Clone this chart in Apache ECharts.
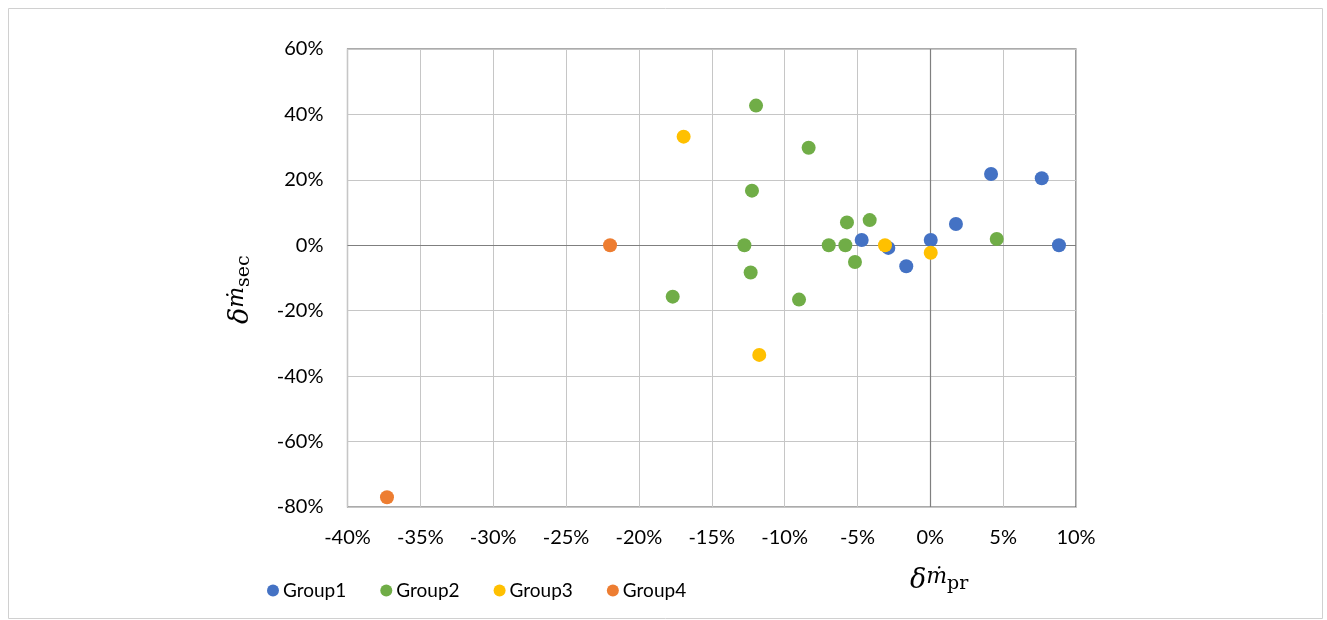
<!DOCTYPE html>
<html>
<head>
<meta charset="utf-8">
<script src="https://cdn.jsdelivr.net/npm/echarts@6/dist/echarts.min.js"></script>
<style>
  html, body { margin: 0; padding: 0; background: #fff; }
  #chart { width: 1327px; height: 620px; }
</style>
</head>
<body>
<div id="chart"></div>
<script>
// Relative deviations (%) of primary and secondary mass flow, by group
const groupNames = ['Group1', 'Group2', 'Group3', 'Group4'];
const groupColors = ['#4472C4', '#70AD47', '#FFC000', '#ED7D31'];

const group1X = [4.17, 7.65, 1.76, -4.71, -2.88, 0.03, -1.65, 8.83];
const group1Y = [21.8, 20.5, 6.5, 1.6, -0.8, 1.6, -6.4, 0.0];

const group2X = [-11.96, -8.35, -12.24, -5.72, -4.16, -12.76, -6.97, -5.83, -5.17, -12.33, -17.68, -9.01, 4.56];
const group2Y = [42.7, 29.8, 16.7, 7.0, 7.7, 0.0, 0.0, 0.0, -5.1, -8.3, -15.7, -16.6, 1.9];

const group3X = [-16.93, -11.74, -3.11, 0.03];
const group3Y = [33.2, -33.5, 0.0, -2.3];

const group4X = [-21.98, -37.29];
const group4Y = [0.0, -77.0];

const xTicks = { min: -40, max: 10, interval: 5 };
const yTicks = { min: -80, max: 60, interval: 20 };

const groupsX = [group1X, group2X, group3X, group4X];
const groupsY = [group1Y, group2Y, group3Y, group4Y];

const labelFont = 'Lato, "Open Sans", sans-serif';
const mathFont = '"DejaVu Serif", "Liberation Serif", serif';

const chart = echarts.init(document.getElementById('chart'), null, { renderer: 'canvas' });

const series = groupNames.map((name, i) => ({
  name: name,
  type: 'scatter',
  symbol: 'circle',
  symbolSize: 14,
  itemStyle: { color: groupColors[i], opacity: 1 },
  data: groupsX[i].map((x, k) => [x, groupsY[i][k]]),
  z: 5
}));

// Zero lines through the plot
series.push({
  name: 'zero',
  type: 'line',
  data: [],
  silent: true,
  markLine: {
    silent: true,
    symbol: 'none',
    label: { show: false },
    lineStyle: { color: '#7f7f7f', width: 1.2, type: 'solid' },
    data: [{ xAxis: 0 }, { yAxis: 0 }]
  },
  z: 3
});

const mathRich = {
  d: { fontFamily: mathFont, fontStyle: 'italic', fontSize: 27, fill: '#000', verticalAlign: 'bottom' },
  m: { fontFamily: mathFont, fontStyle: 'italic', fontSize: 22, fill: '#000', verticalAlign: 'bottom', padding: [0, 0, 6, 0] },
  s: { fontFamily: mathFont, fontSize: 19, fill: '#000', verticalAlign: 'bottom' }
};

chart.setOption({
  animation: false,
  backgroundColor: '#ffffff',
  grid: { left: 347.5, right: 251, top: 49, bottom: 113, show: true, borderColor: '#595959', borderWidth: 1.2 },
  xAxis: {
    type: 'value',
    min: xTicks.min, max: xTicks.max, interval: xTicks.interval,
    axisLine: { show: false },
    axisTick: { show: false },
    splitLine: { show: true, lineStyle: { color: '#c6c6c6', width: 1 } },
    axisLabel: {
      formatter: v => v + '%',
      color: '#000', fontFamily: labelFont, fontSize: 20, margin: 21
    }
  },
  yAxis: {
    type: 'value',
    min: yTicks.min, max: yTicks.max, interval: yTicks.interval,
    axisLine: { show: false },
    axisTick: { show: false },
    splitLine: { show: true, lineStyle: { color: '#c6c6c6', width: 1 } },
    axisLabel: {
      formatter: v => v + '%',
      color: '#000', fontFamily: labelFont, fontSize: 20, margin: 24
    }
  },
  legend: {
    data: groupNames,
    left: 262, top: 576,
    orient: 'horizontal',
    icon: 'circle',
    itemWidth: 12, itemHeight: 12,
    itemGap: 34,
    textStyle: { color: '#000', fontFamily: labelFont, fontSize: 19, padding: [0, 0, 0, -1] }
  },
  graphic: [
    {
      type: 'rect',
      left: 6, top: 6,
      shape: { width: 1314, height: 610 },
      style: { fill: 'none', stroke: '#d0d0d0', lineWidth: 1 },
      silent: true
    },
    {
      type: 'text',
      left: 910, top: 566,
      style: { text: '{d|δ}{m|ṁ}{s|pr}', rich: mathRich }
    },
    {
      type: 'text',
      x: 226, y: 324,
      rotation: Math.PI / 2,
      style: { text: '{d|δ}{m|ṁ}{s|sec}', rich: mathRich }
    }
  ],
  series: series
});
</script>
</body>
</html>
